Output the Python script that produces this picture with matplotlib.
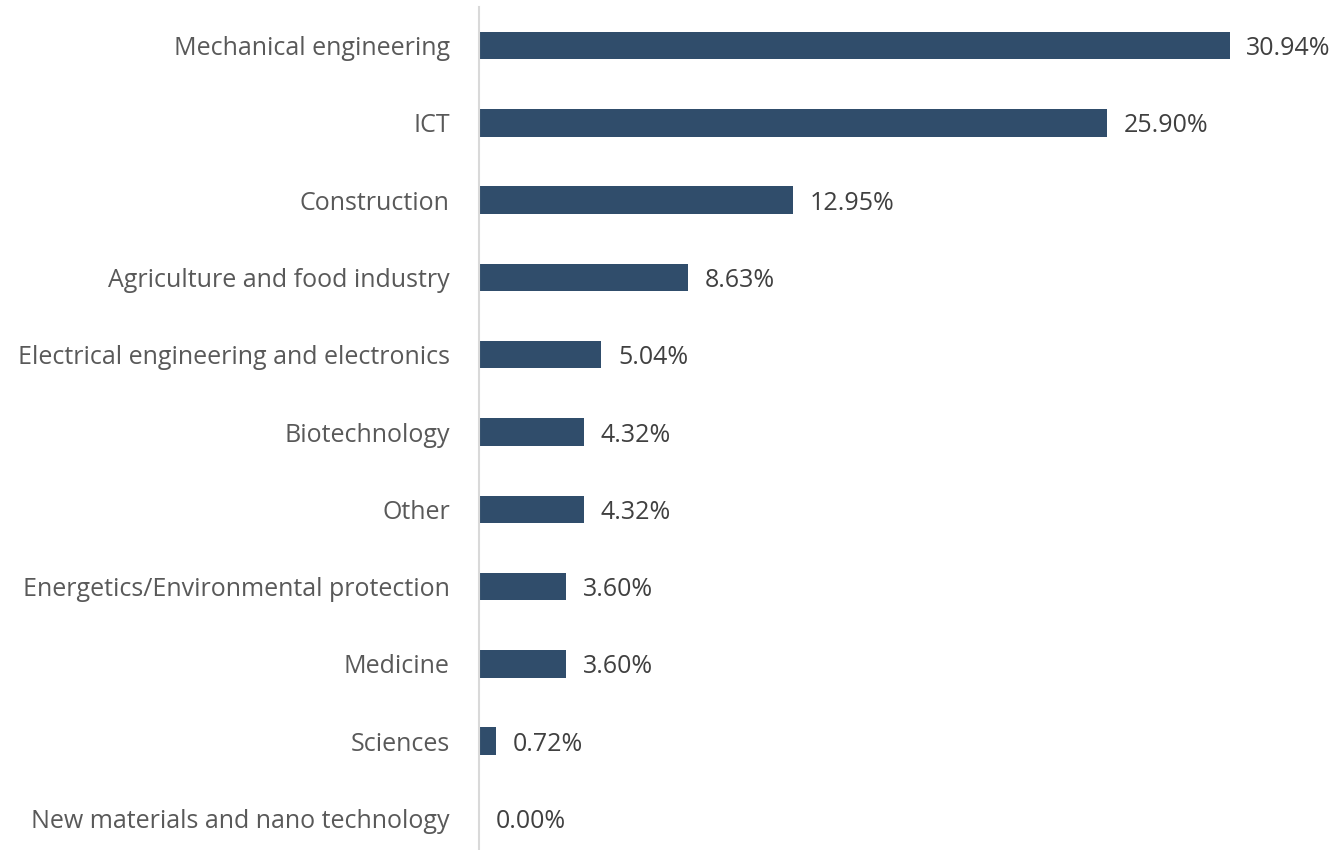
import matplotlib
matplotlib.use("Agg")
import matplotlib.pyplot as plt

categories = [
    "Mechanical engineering",
    "ICT",
    "Construction",
    "Agriculture and food industry",
    "Electrical engineering and electronics",
    "Biotechnology",
    "Other",
    "Energetics/Environmental protection",
    "Medicine",
    "Sciences",
    "New materials and nano technology",
]
shares = [30.94, 25.90, 12.95, 8.63, 5.04, 4.32, 4.32, 3.60, 3.60, 0.72, 0.00]

plt.rcParams["font.family"] = ["Open Sans", "DejaVu Sans"]

W, H = 1340, 850
fig = plt.figure(figsize=(W / 100, H / 100), dpi=100)
ax = fig.add_axes([479 / W, -7 / H, 849 / W, 1.0])

ypos = list(range(len(categories)))
ax.barh(ypos, shares, height=0.355, color="#304D6B")
ax.set_ylim(len(categories) - 0.5, -0.5)
ax.set_xlim(0, 35)

for y, v in zip(ypos, shares):
    ax.annotate(f"{v:.2f}%", xy=(v, y), xytext=(12, 0), textcoords="offset points",
                ha="left", va="center_baseline", fontsize=18, color="#404040")

ax.set_yticks(ypos)
ax.set_yticklabels(categories, fontsize=18, color="#595959")
ax.tick_params(axis="y", length=0, pad=21)
ax.set_xticks([])
for side in ("top", "right", "bottom"):
    ax.spines[side].set_visible(False)
ax.spines["left"].set_color("#D9D9D9")
ax.spines["left"].set_linewidth(1.5)

fig.savefig("out.png", dpi=100, facecolor="white")
